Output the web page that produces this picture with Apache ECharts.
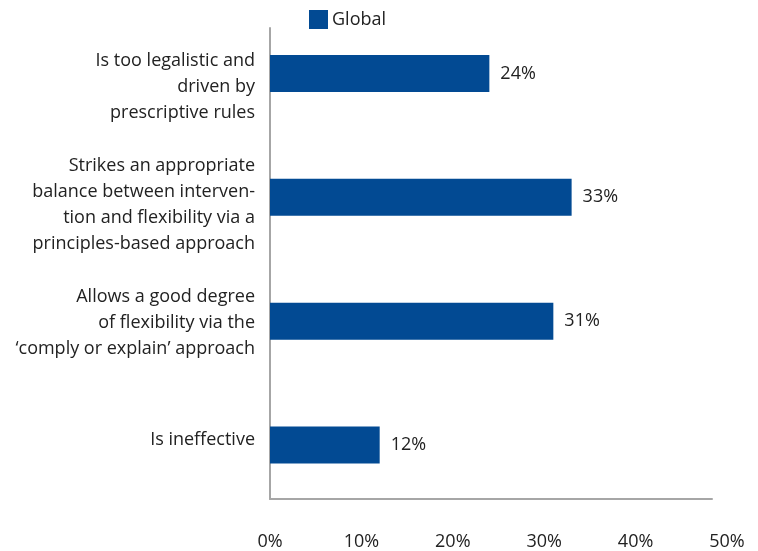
<!DOCTYPE html>
<html>
<head>
<meta charset="utf-8">
<script src="https://cdn.jsdelivr.net/npm/echarts@6/dist/echarts.min.js"></script>
<style>
  html, body { margin: 0; padding: 0; background: #ffffff; }
  #chart { width: 758px; height: 551px; }
</style>
</head>
<body>
<div id="chart"></div>
<script>
// Survey answers, listed top to bottom
const categories = [
  'Is too legalistic and\ndriven by\nprescriptive rules',
  'Strikes an appropriate\nbalance between interven-\ntion and flexibility via a\nprinciples-based approach',
  'Allows a good degree\nof flexibility via the\n\u2018comply or explain\u2019 approach',
  'Is ineffective'
];
const seriesName = 'Global';
const globalValues = [24, 33, 31, 12];
const xTicks = [0, 10, 20, 30, 40, 50];

const textColor = '#222222';
const axisGray = '#a6a6a6';
const barBlue = '#024a93';
const fontFamily = '"Open Sans", "Noto Sans", sans-serif';
const fontSize = 18;

const xMin = xTicks[0];
const xMax = xTicks[xTicks.length - 1];

const chart = echarts.init(document.getElementById('chart'), null, { renderer: 'canvas' });

chart.setOption({
  backgroundColor: '#ffffff',
  animation: false,
  textStyle: { fontFamily: fontFamily, color: textColor },
  legend: {
    data: [seriesName],
    left: 309,
    top: 10,
    padding: 0,
    itemWidth: 19,
    itemHeight: 19,
    itemGap: 6,
    icon: 'rect',
    textStyle: { fontSize: fontSize, color: textColor, fontFamily: fontFamily, padding: [0, 0, 0, -1] }
  },
  grid: [
    // frame: category labels and the two axis lines
    { left: 270, right: 46, top: 28, bottom: 52, containLabel: false },
    // plotting area for the bars and the percent scale
    { left: 270, right: 31, top: 11.5, bottom: 44, containLabel: false }
  ],
  xAxis: [
    {
      gridIndex: 0,
      type: 'value',
      min: xMin,
      max: xMax,
      interval: 10,
      axisLine: { show: true, lineStyle: { color: axisGray, width: 2 } },
      axisTick: { show: false },
      splitLine: { show: false },
      axisLabel: { show: false }
    },
    {
      gridIndex: 1,
      type: 'value',
      min: xMin,
      max: xMax,
      interval: 10,
      axisLine: { show: false },
      axisTick: { show: false },
      splitLine: { show: false },
      axisLabel: {
        margin: 26,
        fontSize: fontSize,
        color: textColor,
        fontFamily: fontFamily,
        formatter: v => v + '%'
      }
    }
  ],
  yAxis: [
    {
      gridIndex: 0,
      type: 'category',
      inverse: true,
      data: categories,
      axisLine: { show: true, lineStyle: { color: axisGray, width: 2 } },
      axisTick: { show: false },
      axisLabel: {
        margin: 15,
        fontSize: fontSize,
        lineHeight: 26,
        color: textColor,
        fontFamily: fontFamily,
        align: 'right'
      }
    },
    {
      gridIndex: 1,
      type: 'category',
      inverse: true,
      data: categories,
      axisLine: { show: false },
      axisTick: { show: false },
      axisLabel: { show: false }
    }
  ],
  series: [{
    name: seriesName,
    type: 'bar',
    xAxisIndex: 1,
    yAxisIndex: 1,
    data: globalValues,
    barWidth: 37,
    itemStyle: { color: barBlue },
    label: {
      show: true,
      position: 'right',
      distance: 11,
      fontSize: fontSize,
      color: textColor,
      fontFamily: fontFamily,
      formatter: p => p.value + '%'
    }
  }]
});
</script>
</body>
</html>
